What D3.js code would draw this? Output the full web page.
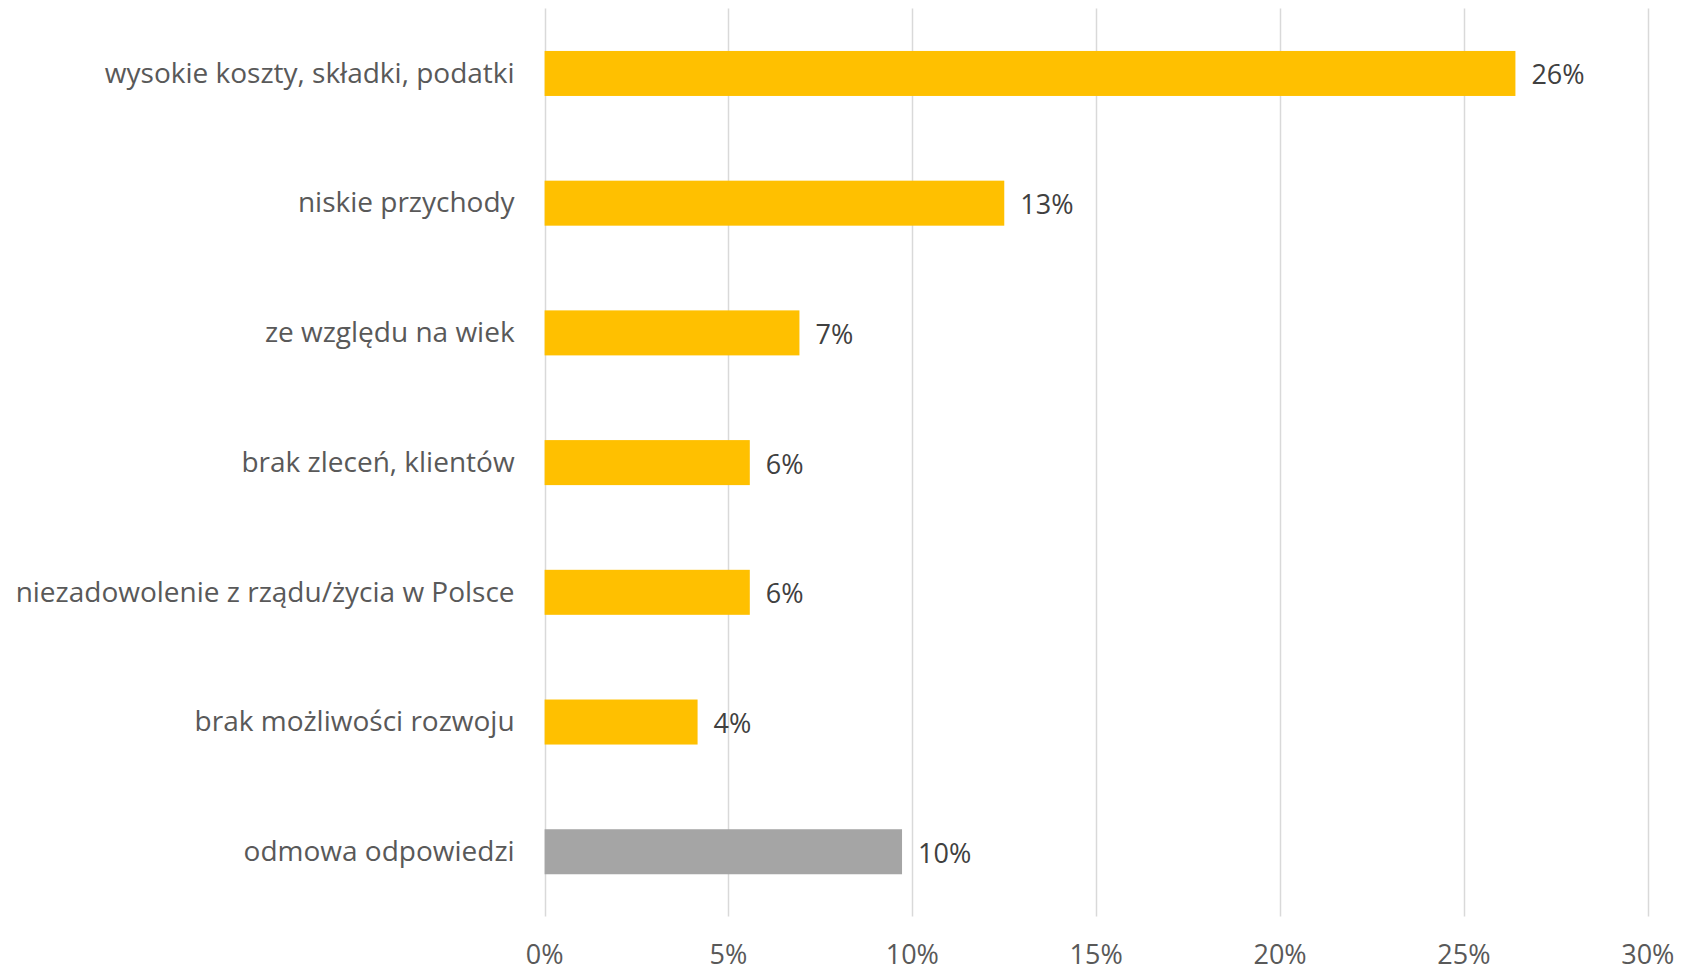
<!DOCTYPE html>
<html><head><meta charset="utf-8">
<script src="https://cdn.jsdelivr.net/npm/d3@7"></script>
<style>body{margin:0;background:#fff;} text{font-family:"Open Sans",sans-serif;}</style>
</head><body>
<svg id="c" width="1681" height="971"></svg>
<script>
const categories = ["wysokie koszty, składki, podatki","niskie przychody","ze względu na wiek","brak zleceń, klientów","niezadowolenie z rządu/życia w Polsce","brak możliwości rozwoju","odmowa odpowiedzi"];
const values = [26.4, 12.5, 6.93, 5.58, 5.58, 4.16, 9.72];
const valueLabels = ["26%","13%","7%","6%","6%","4%","10%"];
const barColors = ["#FFC000","#FFC000","#FFC000","#FFC000","#FFC000","#FFC000","#A5A5A5"];
const tickValues = [0,5,10,15,20,25,30];
const tickLabels = ["0%","5%","10%","15%","20%","25%","30%"];

(function(){
const svg = d3.select("#c");
const mLeft = 544.6, mRight = 1647.8, mTop = 8.6, mBottom = 916.6;
const x = d3.scaleLinear().domain([0,30]).range([mLeft,mRight]);
const y = d3.scaleBand().domain(categories).range([mTop,mBottom]).paddingInner(0.653).paddingOuter(0.3265);

svg.append("g").selectAll("line").data(tickValues).join("line")
  .attr("x1",d=>Math.round(x(d))+0.5).attr("x2",d=>Math.round(x(d))+0.5)
  .attr("y1",mTop).attr("y2",mBottom).attr("stroke","#D9D9D9").attr("stroke-width",1.5);

svg.append("g").selectAll("rect").data(values).join("rect")
  .attr("x",x(0)).attr("y",(d,i)=>y(categories[i]))
  .attr("width",d=>x(d)-x(0)).attr("height",y.bandwidth())
  .attr("fill",(d,i)=>barColors[i]);

svg.append("g").selectAll("text").data(values).join("text")
  .attr("x",d=>x(d)+16).attr("y",(d,i)=>y(categories[i])+y.bandwidth()/2+1.5)
  .attr("dy","0.35em").attr("font-size",27).attr("fill","#404040")
  .text((d,i)=>valueLabels[i]);

svg.append("g").selectAll("text").data(categories).join("text")
  .attr("x",mLeft-30).attr("y",d=>y(d)+y.bandwidth()/2)
  .attr("dy","0.33em").attr("text-anchor","end").attr("font-size",28).attr("fill","#595959")
  .text(d=>d);

svg.append("g").selectAll("text").data(tickValues).join("text")
  .attr("x",d=>x(d)).attr("y",955).attr("dy","0.35em").attr("text-anchor","middle")
  .attr("font-size",27).attr("fill","#595959")
  .text((d,i)=>tickLabels[i]);
})();
</script>
</body></html>
